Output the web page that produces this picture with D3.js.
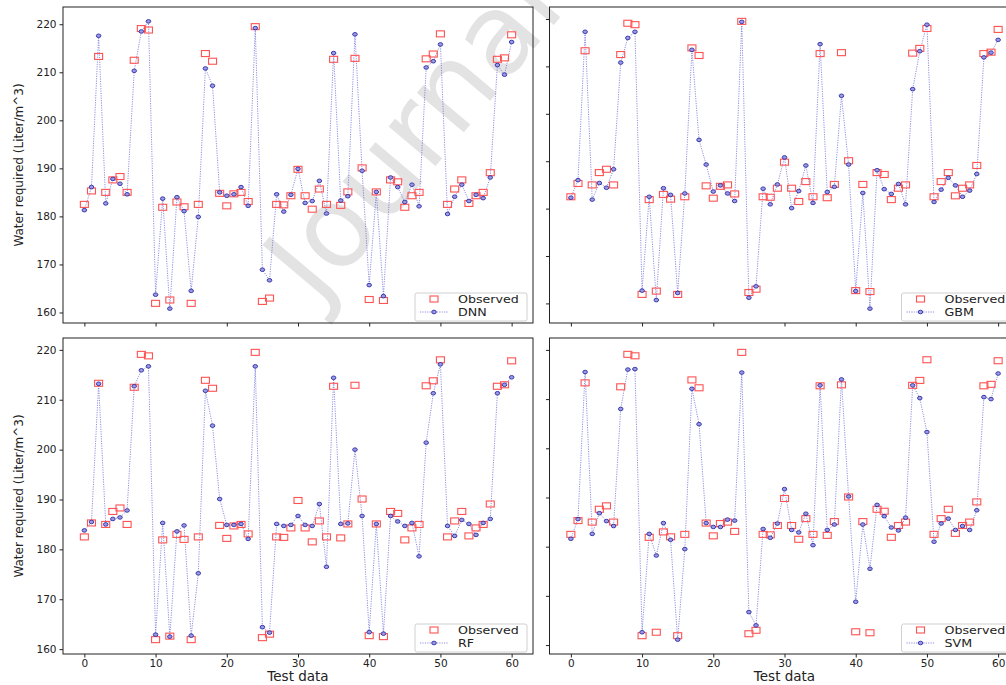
<!DOCTYPE html>
<html>
<head>
<meta charset="utf-8">
<script src="https://cdn.jsdelivr.net/npm/d3@7/dist/d3.min.js"></script>
<style>
  body { margin: 0; background: #fff; }
  svg { display: block; }
  text { font-family: "DejaVu Sans", sans-serif; }
</style>
</head>
<body>
<svg id="chart" width="1006" height="685"></svg>
<script>
// values, index 0..60 along "Test data"
const observed = [182.5, 185.3, 213.3, 185.0, 187.6, 188.3, 185.0, 212.5, 219.1, 218.8, 161.9, 181.9, 162.6, 183.0, 182.0, 161.9, 182.5, 213.9, 212.3, 184.8, 182.2, 184.7, 185.0, 183.1, 219.5, 162.3, 163.0, 182.5, 182.4, 184.3, 189.8, 184.3, 181.5, 185.7, 182.5, 212.7, 182.3, 185.1, 212.9, 190.1, 162.7, 185.1, 162.5, 187.6, 187.2, 181.9, 184.3, 185.0, 212.8, 213.8, 218.0, 182.5, 185.7, 187.6, 182.7, 184.3, 185.0, 189.1, 212.7, 213.0, 217.8];
const dnn = [181.3, 186.1, 217.6, 182.7, 187.8, 186.8, 184.6, 210.3, 218.5, 220.6, 163.7, 183.7, 160.8, 184.0, 181.1, 164.5, 179.9, 210.8, 207.2, 185.0, 184.3, 184.6, 186.1, 182.2, 219.2, 168.9, 166.7, 184.6, 181.0, 184.5, 189.9, 182.8, 183.2, 187.4, 180.6, 214.0, 183.3, 184.2, 217.9, 189.5, 165.7, 185.1, 163.4, 188.1, 186.1, 183.0, 186.6, 182.1, 211.0, 212.3, 215.8, 180.5, 184.1, 186.6, 183.2, 184.5, 183.8, 188.1, 211.5, 209.5, 216.3];
const gbm = [182.3, 186.0, 217.3, 181.9, 185.4, 184.4, 188.3, 210.8, 216.0, 217.3, 162.7, 182.5, 160.7, 184.3, 182.9, 162.2, 183.2, 213.5, 194.5, 189.3, 183.6, 184.9, 183.2, 181.6, 219.4, 161.2, 163.6, 184.2, 180.9, 185.1, 190.8, 180.1, 183.7, 189.1, 181.2, 214.7, 183.5, 184.6, 203.8, 189.3, 162.6, 183.3, 158.9, 188.1, 184.1, 183.1, 185.2, 180.9, 205.2, 213.2, 218.8, 181.4, 184.0, 186.5, 184.9, 182.5, 183.8, 187.3, 211.9, 212.9, 215.6];
const rf = [183.8, 185.5, 213.2, 185.0, 186.1, 186.4, 187.8, 212.7, 215.9, 216.7, 162.9, 185.3, 162.5, 183.6, 184.8, 162.7, 175.2, 211.8, 204.8, 190.1, 184.9, 184.9, 185.1, 182.1, 216.7, 164.4, 163.3, 185.1, 184.7, 184.9, 186.7, 184.9, 184.7, 189.1, 176.5, 214.4, 185.1, 185.2, 200.0, 186.7, 163.4, 185.1, 163.1, 186.7, 185.6, 184.7, 185.3, 178.6, 201.4, 211.3, 217.1, 184.7, 182.7, 185.9, 185.1, 182.9, 185.3, 186.1, 211.3, 213.0, 214.5];
const svm = [181.6, 185.6, 215.5, 182.6, 186.8, 185.2, 184.2, 208.0, 216.0, 216.1, 162.6, 182.6, 178.2, 184.8, 181.4, 161.1, 179.5, 212.1, 204.9, 184.8, 184.0, 184.0, 185.5, 185.3, 215.4, 166.7, 164.0, 183.6, 181.8, 184.7, 191.7, 183.4, 182.9, 186.7, 180.3, 212.8, 183.4, 184.5, 214.0, 190.2, 168.8, 184.5, 175.5, 188.5, 186.2, 183.9, 183.3, 185.9, 212.8, 210.2, 203.3, 181.0, 184.7, 185.7, 183.4, 184.2, 183.4, 187.4, 210.4, 210.0, 215.2];
const modelNames = ["DNN", "GBM", "RF", "SVM"];
const xTicks = [0, 10, 20, 30, 40, 50, 60];
const yTicks = [160, 170, 180, 190, 200, 210, 220];

const predictions = [dnn, gbm, rf, svm];
const svg = d3.select("#chart");
const panelW = 470, panelH = 316;
const lefts = [63, 549.5], tops = [7, 338];

// faint watermark behind everything
svg.append("text")
  .attr("transform", "translate(318,306) rotate(-50)")
  .attr("font-size", 112)
  .attr("fill", "#e3e3e3")
  .text("Journal");

modelNames.forEach((name, k) => {
  const col = k % 2, row = Math.floor(k / 2);
  const pred = predictions[k];
  const g = svg.append("g").attr("transform", `translate(${lefts[col]},${tops[row]})`);

  const x = d3.scaleLinear().domain([-3, 63]).range([0, panelW]);
  const ext = d3.extent(observed.concat(pred));
  const pad = (ext[1] - ext[0]) * 0.05;
  const y = d3.scaleLinear().domain([ext[0] - pad, ext[1] + pad]).range([panelH, 0]);

  const xAxis = d3.axisBottom(x).tickValues(xTicks).tickSize(3.5).tickPadding(2);
  if (row === 0) xAxis.tickFormat("");
  const yAxis = d3.axisLeft(y).tickValues(yTicks).tickSize(3.5).tickPadding(3);
  if (col === 1) yAxis.tickFormat("");

  const xg = g.append("g").attr("transform", `translate(0,${panelH})`).call(xAxis);
  const yg = g.append("g").call(yAxis);
  [xg, yg].forEach(a => {
    a.select(".domain").remove();
    a.selectAll("text").attr("font-size", 10.5).attr("fill", "#222").attr("font-family", "DejaVu Sans");
    a.selectAll("line").attr("stroke", "#222");
  });

  const clipId = "clip" + k;
  g.append("clipPath").attr("id", clipId)
    .append("rect").attr("width", panelW).attr("height", panelH);
  const plot = g.append("g").attr("clip-path", `url(#${clipId})`);

  plot.append("path")
    .datum(pred)
    .attr("fill", "none")
    .attr("stroke", "#6a6ad8")
    .attr("stroke-width", 1)
    .attr("stroke-dasharray", "1.2,1.2")
    .attr("opacity", 0.75)
    .attr("d", d3.line().x((d, i) => x(i)).y(d => y(d)));

  plot.selectAll("rect.obs")
    .data(observed)
    .join("rect")
    .attr("class", "obs")
    .attr("x", (d, i) => x(i) - 4)
    .attr("y", d => y(d) - 3)
    .attr("width", 8)
    .attr("height", 6)
    .attr("fill", "none")
    .attr("stroke", "#ff5252")
    .attr("stroke-width", 1.1);

  plot.selectAll("ellipse.pred")
    .data(pred)
    .join("ellipse")
    .attr("class", "pred")
    .attr("cx", (d, i) => x(i))
    .attr("cy", d => y(d))
    .attr("rx", 2.3)
    .attr("ry", 1.8)
    .attr("fill", "#9a9ae2")
    .attr("stroke", "#2d2da6")
    .attr("stroke-width", 0.9);

  g.append("rect")
    .attr("width", panelW).attr("height", panelH)
    .attr("fill", "none").attr("stroke", "#222").attr("stroke-width", 1);

  // legend
  const lg = g.append("g").attr("transform", "translate(352,286)");
  lg.append("rect")
    .attr("width", 112).attr("height", 28).attr("rx", 2)
    .attr("fill", "#fff").attr("fill-opacity", 0.8)
    .attr("stroke", "#d0d0d0");
  lg.append("rect")
    .attr("x", 15).attr("y", 3).attr("width", 8).attr("height", 6)
    .attr("fill", "none").attr("stroke", "#ff5252").attr("stroke-width", 1.1);
  lg.append("line")
    .attr("x1", 5).attr("x2", 33).attr("y1", 19).attr("y2", 19)
    .attr("stroke", "#6a6ad8").attr("stroke-dasharray", "1.2,1.2").attr("opacity", 0.75);
  lg.append("ellipse")
    .attr("cx", 19).attr("cy", 19).attr("rx", 2.3).attr("ry", 1.8)
    .attr("fill", "#9a9ae2").attr("stroke", "#2d2da6").attr("stroke-width", 0.9);
  [["Observed", 10.2], [name, 23.4]].forEach(([t, ty]) => {
    const el = lg.append("text").attr("x", 43).attr("y", ty)
      .attr("font-size", 11.3).attr("fill", "#222").text(t);
    const w = el.node().getComputedTextLength();
    el.attr("textLength", w * 1.12).attr("lengthAdjust", "spacingAndGlyphs");
  });

  if (row === 1) {
    g.append("text")
      .attr("x", x(30)).attr("y", panelH + 27)
      .attr("text-anchor", "middle").attr("font-size", 13.5).attr("fill", "#222")
      .text("Test data");
  }
  if (col === 0) {
    g.append("text")
      .attr("transform", `translate(-40,${panelH / 2}) rotate(-90)`)
      .attr("text-anchor", "middle").attr("font-size", 12).attr("fill", "#222")
      .text("Water required (Liter/m^3)");
  }
});
</script>
</body>
</html>
